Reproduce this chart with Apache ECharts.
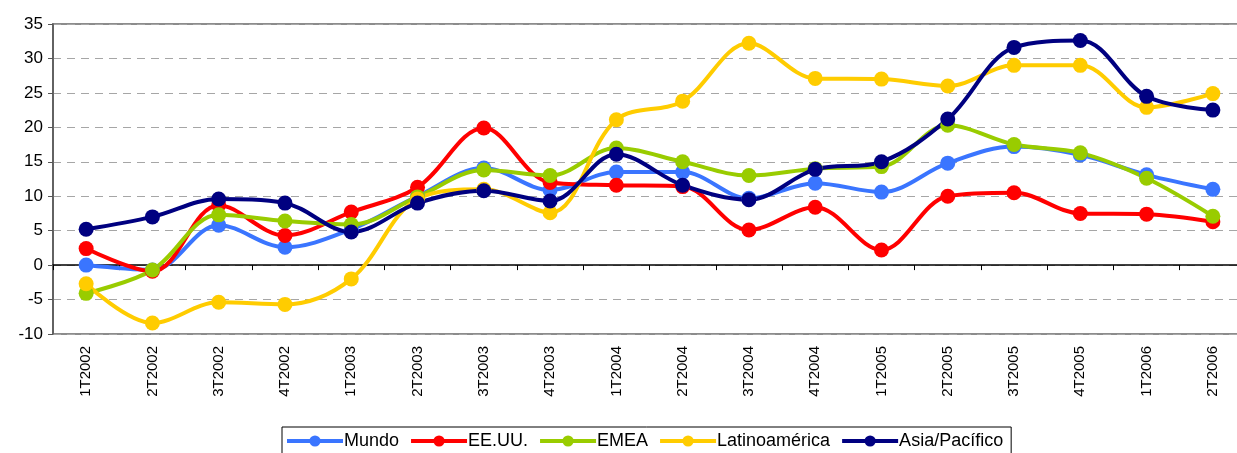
<!DOCTYPE html>
<html>
<head>
<meta charset="utf-8">
<script src="https://cdn.jsdelivr.net/npm/echarts@6/dist/echarts.min.js"></script>
<style>
  html, body { margin: 0; padding: 0; background: #fff; }
  #chart { width: 1237px; height: 453px; }
</style>
</head>
<body>
<div id="chart"></div>
<script>
var chart = echarts.init(document.getElementById('chart'));

// trimestres
var categories = ['1T2002', '2T2002', '3T2002', '4T2002', '1T2003', '2T2003', '3T2003', '4T2003', '1T2004',
                  '2T2004', '3T2004', '4T2004', '1T2005', '2T2005', '3T2005', '4T2005', '1T2006', '2T2006'];
var yTicks = [-10, 35, 5]; // min, max, intervalo

// valores
var mundo     = [0, -0.7, 5.8, 2.6, 5.2, 10, 14.1, 10.9, 13.5, 13.5, 9.7, 11.9, 10.6, 14.8, 17.2, 16.0, 13.1, 11.0];
var eeuu      = [2.4, -0.9, 8.7, 4.3, 7.7, 11.3, 19.9, 12.0, 11.6, 11.4, 5.1, 8.4, 2.2, 10.0, 10.5, 7.5, 7.4, 6.3];
var emea      = [-4.1, -0.7, 7.3, 6.4, 5.9, 9.9, 13.8, 13.0, 17.0, 15.0, 13.0, 14.0, 14.3, 20.3, 17.5, 16.3, 12.6, 7.1];
var latam     = [-2.7, -8.4, -5.4, -5.7, -2.0, 9.6, 11.0, 7.6, 21.1, 23.8, 32.2, 27.1, 27.0, 26.0, 29.0, 29.0, 22.9, 24.9];
var asiaPac   = [5.2, 7.0, 9.6, 9.0, 4.8, 9.0, 10.8, 9.3, 16.1, 11.6, 9.5, 13.9, 15.0, 21.2, 31.6, 32.6, 24.5, 22.5];

var seriesDefs = [
  { name: 'Mundo', data: mundo, color: '#3A75FF' },
  { name: 'EE.UU.', data: eeuu, color: '#FF0000' },
  { name: 'EMEA', data: emea, color: '#99CC00' },
  { name: 'Latinoamérica', data: latam, color: '#FFCC00' },
  { name: 'Asia/Pacífico', data: asiaPac, color: '#000080' }
];

var option = {
  backgroundColor: '#ffffff',
  animation: false,
  textStyle: { fontFamily: 'Liberation Sans, Arial, sans-serif' },
  // el área llega más allá del borde derecho de la imagen
  grid: { left: 53, top: 24, width: 1193, height: 310, outerBoundsMode: 'none',
          show: true, borderColor: '#8c8c8c', borderWidth: 2 },
  legend: {
    left: 282, top: 427,
    itemWidth: 56, itemHeight: 14, itemGap: 10,
    padding: [5, 8, 8, 3],
    borderColor: '#000', borderWidth: 1,
    lineStyle: { width: 4 },
    textStyle: { fontSize: 18, color: '#000', fontFamily: 'Liberation Sans, Arial, sans-serif', padding: [0, 0, 0, -4] },
    data: seriesDefs.map(function (s) { return s.name; })
  },
  xAxis: [
    {//etiquetas abajo
      type: 'category', data: categories, position: 'bottom',
      axisLine: { onZero: false, show: false },
      axisTick: { show: false },
      axisLabel: { rotate: 90, margin: 12, fontSize: 15, color: '#000' },
      splitLine: { show: false }
    },
    {//línea del cero con marcas
      type: 'category', data: categories, position: 'bottom',
      axisLine: { onZero: true, lineStyle: { color: '#000', width: 1.5 } },
      axisTick: { show: true, length: 5, lineStyle: { color: '#000' } },
      axisLabel: { show: false },
      splitLine: { show: false }
    }
  ],
  yAxis: {
    type: 'value', min: yTicks[0], max: yTicks[1], interval: yTicks[2],
    axisLine: { show: true, lineStyle: { color: '#555', width: 1.5 } },
    axisTick: { show: true, length: 5, lineStyle: { color: '#555' } },
    axisLabel: { fontSize: 17, color: '#000', margin: 10 },
    splitLine: { show: true, lineStyle: { color: '#a6a6a6', type: [8, 6], width: 1 } }
  },
  series: seriesDefs.map(function (s) {
    return {
      name: s.name, type: 'line', data: s.data, xAxisIndex: 0,
      smooth: 0.35, symbol: 'circle', symbolSize: 15,
      lineStyle: { width: 4, color: s.color },
      itemStyle: { color: s.color }
    };
  })
};
chart.setOption(option);
</script>
</body>
</html>
